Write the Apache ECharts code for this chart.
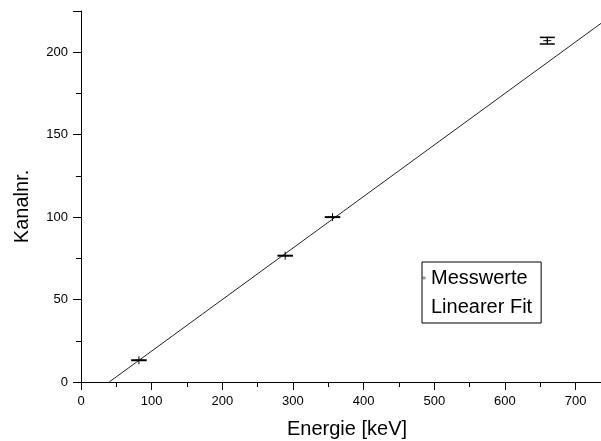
<!DOCTYPE html>
<html>
<head>
<meta charset="utf-8">
<script src="https://cdn.jsdelivr.net/npm/echarts@6/dist/echarts.min.js"></script>
<style>html,body{margin:0;padding:0;background:#fff;overflow:hidden}#c{width:601px;height:441px}</style>
</head>
<body>
<div id="c"></div>
<script>
// Measured points
var energies = [82, 289, 356, 660];
var channels = [13.2, 76.6, 100.0, 207.0];
var energyErr = [11, 11, 11, 0];
var channelErr = [0, 0, 0, 2];
// Linear fit endpoints
var fitX = [40, 736];
var fitY = [0, 217.5];

var FONT = 'Arial, "Liberation Sans", sans-serif';
var chart = echarts.init(document.getElementById('c'), null, {renderer: 'canvas'});

var pointData = energies.map(function (e, i) { return [e, channels[i], energyErr[i], channelErr[i]]; });
var fitData = fitX.map(function (x, i) { return [x, fitY[i]]; });

chart.setOption({
  animation: false,
  backgroundColor: '#fff',
  grid: {left: 81, right: 0, top: 11, bottom: 59, containLabel: false, outerBoundsMode: 'none'},
  xAxis: {
    type: 'value', min: 0, max: 736, interval: 100,
    name: 'Energie [keV]', nameLocation: 'middle', nameGap: 37, nameMoveOverlap: false,
    nameTextStyle: {fontFamily: FONT, fontSize: 20, color: '#000', padding: [0, 0, 0, 12]},
    axisLine: {show: true, lineStyle: {color: '#000', width: 1}},
    axisTick: {show: true, inside: false, length: 8, lineStyle: {color: '#000'}},
    minorTick: {show: true, splitNumber: 2, length: 5, lineStyle: {color: '#000'}},
    axisLabel: {fontFamily: FONT, fontSize: 13, color: '#000', margin: 13, showMaxLabel: false},
    splitLine: {show: false}
  },
  yAxis: {
    type: 'value', min: 0, max: 225, interval: 50,
    name: 'Kanalnr.', nameLocation: 'middle', nameGap: 49, nameRotate: 90, nameMoveOverlap: false,
    nameTextStyle: {fontFamily: FONT, fontSize: 20, color: '#000', padding: [0, 20, 0, 0]},
    axisLine: {show: true, lineStyle: {color: '#000', width: 1}},
    axisTick: {show: true, inside: false, length: 8, lineStyle: {color: '#000'}},
    minorTick: {show: true, splitNumber: 2, length: 5, lineStyle: {color: '#000'}},
    axisLabel: {fontFamily: FONT, fontSize: 13, color: '#000', margin: 13, showMaxLabel: false},
    splitLine: {show: false}
  },
  legend: {
    orient: 'vertical', left: 422, top: 262,
    borderColor: '#000', borderWidth: 1, borderRadius: 0,
    padding: [6, 9, 6, 0], itemGap: 9, itemWidth: 4, itemHeight: 8,
    textStyle: {fontFamily: FONT, fontSize: 20, color: '#000'},
    data: [
      {name: 'Messwerte', icon: 'path://M0,4.5H10V5.5H0Z M4.5,0H5.5V10H4.5Z', itemStyle: {color: '#000'}},
      {name: 'Linearer Fit', icon: 'none'}
    ]
  },
  series: [
    {
      name: 'Linearer Fit', type: 'line', data: fitData, showSymbol: false, symbol: 'none',
      lineStyle: {color: '#222', width: 1}, itemStyle: {color: '#000'}, clip: true, z: 2
    },
    {
      name: 'Messwerte', type: 'custom', data: pointData, itemStyle: {color: '#000'}, z: 3,
      renderItem: function (params, api) {
        var x = api.value(0), y = api.value(1), ex = api.value(2), ey = api.value(3);
        var c = api.coord([x, y]);
        var children = [];
        var st = {stroke: '#000', lineWidth: 1};
        children.push({type: 'line', shape: {x1: c[0] - 4, y1: c[1], x2: c[0] + 4, y2: c[1]}, style: st});
        children.push({type: 'line', shape: {x1: c[0], y1: c[1] - 4, x2: c[0], y2: c[1] + 4}, style: st});
        if (ex > 0) {
          var a = api.coord([x - ex, y]), b = api.coord([x + ex, y]);
          children.push({type: 'line', shape: {x1: a[0], y1: c[1], x2: b[0], y2: c[1]}, style: {stroke: '#000', lineWidth: 2}});
        }
        if (ey > 0) {
          var lo = api.coord([x, y - ey]), hi = api.coord([x, y + ey]);
          children.push({type: 'line', shape: {x1: c[0], y1: lo[1], x2: c[0], y2: hi[1]}, style: st});
          children.push({type: 'line', shape: {x1: c[0] - 7.5, y1: lo[1], x2: c[0] + 7.5, y2: lo[1]}, style: {stroke: '#000', lineWidth: 1.5}});
          children.push({type: 'line', shape: {x1: c[0] - 7.5, y1: hi[1], x2: c[0] + 7.5, y2: hi[1]}, style: {stroke: '#000', lineWidth: 1.5}});
        }
        return {type: 'group', children: children};
      }
    }
  ]
});
</script>
</body>
</html>
